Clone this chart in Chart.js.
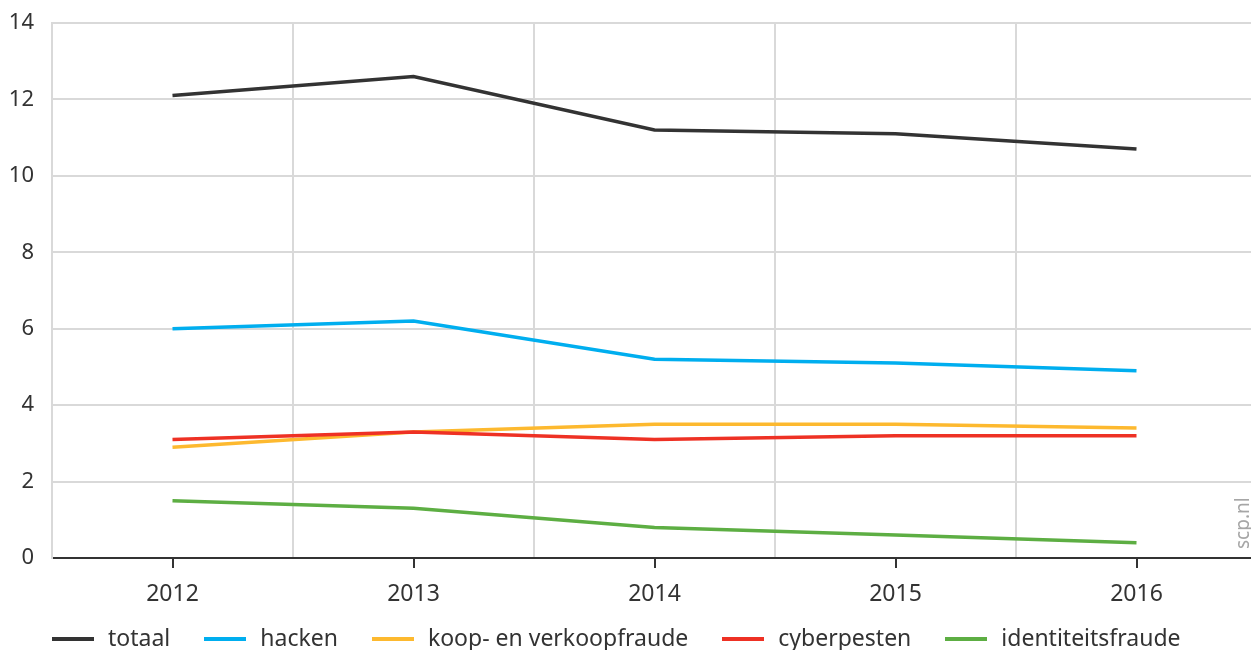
<!DOCTYPE html>
<html><head><meta charset="utf-8">
<script src="https://cdn.jsdelivr.net/npm/chart.js@4/dist/chart.umd.min.js"></script>
<style>
html,body{margin:0;padding:0;overflow:hidden;background:#fff;}
#wrap{position:relative;width:1258px;height:650px;}
#src{position:absolute;left:1229px;top:549px;transform-origin:0 0;transform:rotate(-90deg);font-family:"Noto Sans",sans-serif;font-size:19px;color:#a6a6a6;white-space:nowrap;}
#legend{position:absolute;left:52px;top:622px;display:flex;align-items:center;font-family:"Noto Sans",sans-serif;font-size:23px;color:#333;white-space:nowrap;line-height:30px;}
#legend .it{display:flex;align-items:center;margin-right:34px;}
#legend .ln{display:inline-block;width:42px;height:4px;margin-right:14px;position:relative;top:2px;}
</style></head>
<body>
<div id="wrap"><canvas id="c"></canvas><div id="src">scp.nl</div><div id="legend"></div></div>
<script>
const years = ['2012','2013','2014','2015','2016'];
const totaal = [12.1, 12.6, 11.2, 11.1, 10.7];
const hacken = [6.0, 6.2, 5.2, 5.1, 4.9];
const koopVerkoopfraude = [2.9, 3.3, 3.5, 3.5, 3.4];
const cyberpesten = [3.1, 3.3, 3.1, 3.2, 3.2];
const identiteitsfraude = [1.5, 1.3, 0.8, 0.6, 0.4];
const seriesNames = ['totaal','hacken','koop- en verkoopfraude','cyberpesten','identiteitsfraude'];
const seriesColors = ['#333333','#00aeef','#fdb92f','#ee3124','#5dae43'];
const yTicks = [0,2,4,6,8,10,12,14];

const seriesData = [totaal, hacken, koopVerkoopfraude, cyberpesten, identiteitsfraude];
const FONT = '"Noto Sans", sans-serif';

// HTML legend built from the series names and colours
const legendEl = document.getElementById('legend');
seriesNames.forEach((n, i) => {
  const it = document.createElement('span'); it.className = 'it';
  const ln = document.createElement('span'); ln.className = 'ln'; ln.style.background = seriesColors[i];
  const tx = document.createElement('span'); tx.textContent = n;
  it.appendChild(ln); it.appendChild(tx); legendEl.appendChild(it);
});

const tickMarks = {
  id: 'tickMarks',
  afterDatasetsDraw(chart) {
    const x = chart.scales.x, ctx = chart.ctx;
    ctx.save();
    ctx.strokeStyle = '#333333';
    ctx.lineWidth = 2;
    years.forEach((y, i) => {
      const px = Math.round(x.getPixelForValue(i));
      ctx.beginPath();
      ctx.moveTo(px, x.top);
      ctx.lineTo(px, x.top + 10);
      ctx.stroke();
    });
    ctx.restore();
  }
};

new Chart(document.getElementById('c'), {
  type: 'line',
  data: {
    labels: years,
    datasets: seriesData.map((d, i) => ({
      label: seriesNames[i],
      data: d,
      borderColor: seriesColors[i],
      backgroundColor: seriesColors[i],
      borderWidth: 3.5,
      pointRadius: 0,
      tension: 0,
      order: i === 3 ? 1 : (i === 2 ? 2 : 0)
    }))
  },
  options: {
    responsive: true,
    maintainAspectRatio: false,
    animation: false,
    layout: { padding: { top: 23, right: 1, left: 0, bottom: 0 } },
    plugins: {
      tooltip: { enabled: false },
      legend: { display: false }
    },
    scales: {
      x: {
        type: 'category',
        offset: true,
        afterFit(scale) { scale.height = 92; },
        grid: { offset: true, color: '#d9d9d9', lineWidth: 2, drawTicks: false },
        border: { color: '#333333', width: 2 },
        ticks: { font: { family: FONT, size: 23 }, color: '#333333', padding: 23 }
      },
      y: {
        min: 0, max: 14,
        afterBuildTicks(scale) { scale.ticks = yTicks.map(v => ({ value: v })); },
        afterFit(scale) { scale.width = 52; scale.paddingTop = 0; scale.paddingBottom = 0; },
        grid: { color: '#d9d9d9', lineWidth: 2, drawTicks: false },
        border: { color: '#d9d9d9', width: 2 },
        ticks: { font: { family: FONT, size: 22 }, color: '#333333', padding: 18 }
      }
    }
  },
  plugins: [tickMarks]
});
</script>
</body></html>
